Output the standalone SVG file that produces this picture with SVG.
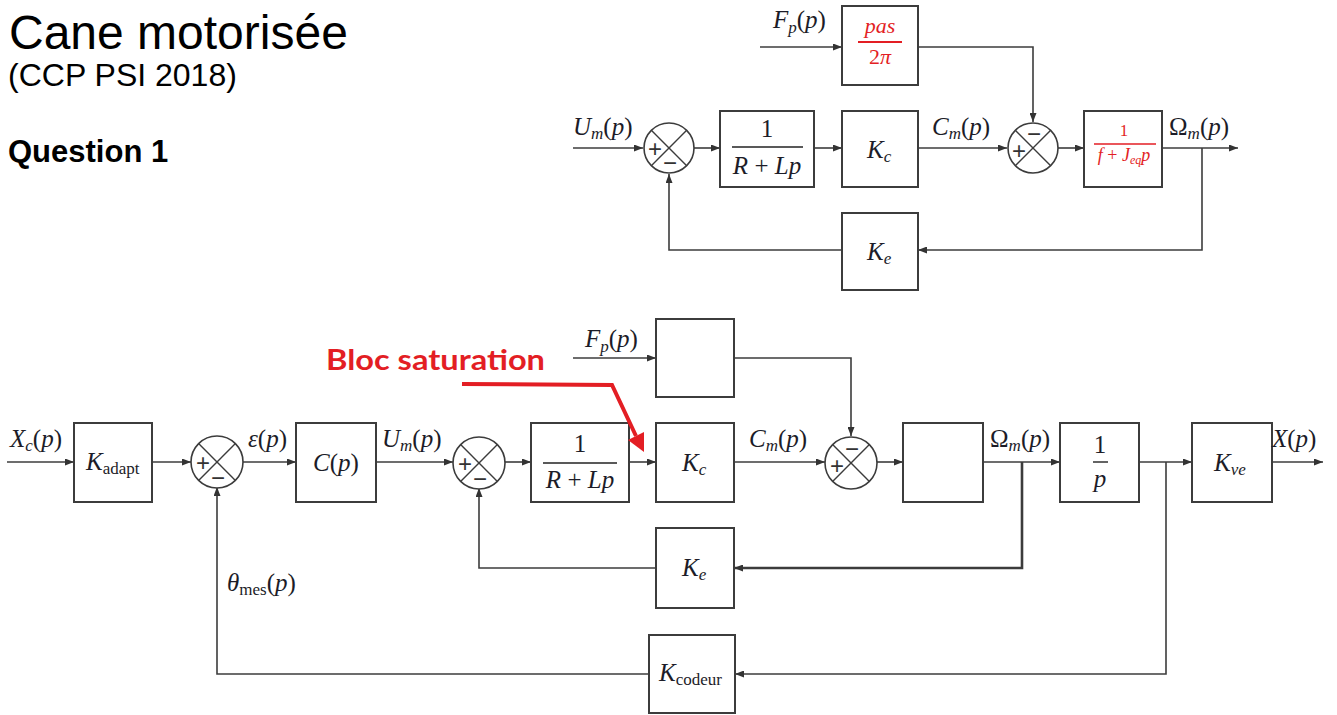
<svg xmlns="http://www.w3.org/2000/svg" width="1337" height="715" viewBox="0 0 1337 715">
<defs>
<marker id="ar" markerUnits="userSpaceOnUse" markerWidth="9" markerHeight="7" refX="9" refY="3.5" orient="auto">
<path d="M0,0 L9,3.5 L0,7 z" fill="#333"/>
</marker>
<style>
.ln{fill:none;stroke:#3c3c3c;stroke-width:1.6}
.thk{stroke-width:2.6}
.bx{fill:#fff;stroke:#3c3c3c;stroke-width:2}
.sj{fill:#fff;stroke:#3c3c3c;stroke-width:1.6}
.cx{stroke:#3c3c3c;stroke-width:1.4}
.m{font-family:"Liberation Serif",serif;font-style:italic;font-size:25px;fill:#1c1c28}
.u{font-style:normal}
.sg{font-family:"Liberation Sans",sans-serif;font-size:24px;fill:#333;text-anchor:middle}
.red{fill:#e31e24}
.hd{font-family:"Liberation Sans",Arial,sans-serif;fill:#000}
</style>
</defs>

<g id="header">
<text class="hd" x="9" y="49" style="font-size:48px">Cane motorisée</text>
<text class="hd" x="8" y="86" style="font-size:32px">(CCP PSI 2018)</text>
<text class="hd" x="8" y="162" style="font-size:31px;font-weight:bold">Question 1</text>
</g>

<!-- ===== Top diagram ===== -->
<g id="top-connectors">
<path class="ln" d="M573,148 H643" marker-end="url(#ar)"/>
<path class="ln" d="M694,148 H720" marker-end="url(#ar)"/>
<path class="ln" d="M814,148 H842" marker-end="url(#ar)"/>
<path class="ln" d="M918,148 H1007" marker-end="url(#ar)"/>
<path class="ln" d="M1058,148 H1084" marker-end="url(#ar)"/>
<path class="ln" d="M1162,148 H1238" marker-end="url(#ar)"/>
<path class="ln" d="M760,47 H842" marker-end="url(#ar)"/>
<path class="ln" d="M918,47 H1033 V122" marker-end="url(#ar)"/>
<path class="ln" d="M1202,148 V250 H918" marker-end="url(#ar)"/>
<path class="ln" d="M842,250 H669 V174" marker-end="url(#ar)"/>
</g>

<g id="t-sum1">
<circle class="sj" cx="669" cy="148" r="25"/>
<line class="cx" x1="651.3" y1="130.3" x2="686.7" y2="165.7"/>
<line class="cx" x1="686.7" y1="130.3" x2="651.3" y2="165.7"/>
<text class="sg" x="655" y="157">+</text>
<text class="sg" x="670" y="171">−</text>
</g>
<g id="t-sum2">
<circle class="sj" cx="1033" cy="148" r="25"/>
<line class="cx" x1="1015.3" y1="130.3" x2="1050.7" y2="165.7"/>
<line class="cx" x1="1050.7" y1="130.3" x2="1015.3" y2="165.7"/>
<text class="sg" x="1019" y="159">+</text>
<text class="sg" x="1034" y="142">−</text>
</g>

<g id="t-pas">
<rect class="bx" x="842" y="6" width="76" height="79"/>
<text class="m red" x="880" y="33" style="font-size:22px" text-anchor="middle">pas</text>
<line x1="858" y1="42" x2="902" y2="42" stroke="#e31e24" stroke-width="1.8"/>
<text class="m red" x="880" y="64" style="font-size:22px" text-anchor="middle"><tspan class="u">2</tspan>π</text>
</g>
<g id="t-rlp">
<rect class="bx" x="720" y="111" width="94" height="76"/>
<text class="m u" x="767" y="137" text-anchor="middle">1</text>
<line x1="732" y1="147" x2="803" y2="147" stroke="#222" stroke-width="1.4"/>
<text class="m" x="767" y="174" text-anchor="middle">R <tspan class="u">+</tspan> Lp</text>
</g>
<g id="t-kc">
<rect class="bx" x="842" y="111" width="76" height="76"/>
<text class="m" x="867" y="158">K<tspan font-size="17" dy="4">c</tspan></text>
</g>
<g id="t-mech">
<rect class="bx" x="1084" y="111" width="78" height="76"/>
<text class="m u red" x="1124" y="136" style="font-size:17px" text-anchor="middle">1</text>
<line x1="1094" y1="144" x2="1156" y2="144" stroke="#e31e24" stroke-width="1.3"/>
<text class="m red" x="1124" y="161" style="font-size:18px" text-anchor="middle">f <tspan class="u">+</tspan> J<tspan font-size="12" dy="3">eq</tspan><tspan dy="-3">p</tspan></text>
</g>
<g id="t-ke">
<rect class="bx" x="842" y="213" width="76" height="77"/>
<text class="m" x="867" y="260">K<tspan font-size="17" dy="4">e</tspan></text>
</g>

<g id="top-labels">
<text class="m" x="773" y="28">F<tspan font-size="17" dy="5">p</tspan><tspan class="u" dy="-5">(</tspan>p<tspan class="u">)</tspan></text>
<text class="m" x="573" y="135">U<tspan font-size="17" dy="4">m</tspan><tspan class="u" dy="-4">(</tspan>p<tspan class="u">)</tspan></text>
<text class="m" x="932" y="135">C<tspan font-size="17" dy="4">m</tspan><tspan class="u" dy="-4">(</tspan>p<tspan class="u">)</tspan></text>
<text class="m" x="1169" y="135"><tspan class="u">Ω</tspan><tspan font-size="17" dy="4">m</tspan><tspan class="u" dy="-4">(</tspan>p<tspan class="u">)</tspan></text>
</g>

<!-- ===== Bottom diagram ===== -->
<g id="bottom-connectors">
<path class="ln" d="M7,462 H74" marker-end="url(#ar)"/>
<path class="ln" d="M152,462 H191" marker-end="url(#ar)"/>
<path class="ln" d="M243,462 H296" marker-end="url(#ar)"/>
<path class="ln" d="M376,462 H453" marker-end="url(#ar)"/>
<path class="ln" d="M505,462 H531" marker-end="url(#ar)"/>
<path class="ln" d="M629,462 H656" marker-end="url(#ar)"/>
<path class="ln" d="M734,462 H825" marker-end="url(#ar)"/>
<path class="ln" d="M877,462 H903" marker-end="url(#ar)"/>
<path class="ln" d="M983,462 H1060" marker-end="url(#ar)"/>
<path class="ln" d="M1139,462 H1192" marker-end="url(#ar)"/>
<path class="ln" d="M1272,462 H1323" marker-end="url(#ar)"/>
<path class="ln" d="M573,358 H656" marker-end="url(#ar)"/>
<path class="ln" d="M734,358 H851 V436" marker-end="url(#ar)"/>
<path class="ln thk" d="M1022,462 V568 H734" marker-end="url(#ar)"/>
<path class="ln" d="M656,568 H479 V488" marker-end="url(#ar)"/>
<path class="ln" d="M1166,462 V674 H735" marker-end="url(#ar)"/>
<path class="ln" d="M649,674 H217 V487" marker-end="url(#ar)"/>
</g>

<g id="b-sum1">
<circle class="sj" cx="217" cy="462" r="26"/>
<line class="cx" x1="198.6" y1="443.6" x2="235.4" y2="480.4"/>
<line class="cx" x1="235.4" y1="443.6" x2="198.6" y2="480.4"/>
<text class="sg" x="203" y="471">+</text>
<text class="sg" x="218" y="486">−</text>
</g>
<g id="b-sum2">
<circle class="sj" cx="479" cy="463" r="26"/>
<line class="cx" x1="460.6" y1="444.6" x2="497.4" y2="481.4"/>
<line class="cx" x1="497.4" y1="444.6" x2="460.6" y2="481.4"/>
<text class="sg" x="465" y="472">+</text>
<text class="sg" x="480" y="487">−</text>
</g>
<g id="b-sum3">
<circle class="sj" cx="851" cy="463" r="26"/>
<line class="cx" x1="832.6" y1="444.6" x2="869.4" y2="481.4"/>
<line class="cx" x1="869.4" y1="444.6" x2="832.6" y2="481.4"/>
<text class="sg" x="837" y="474">+</text>
<text class="sg" x="852" y="457">−</text>
</g>

<g id="b-kadapt">
<rect class="bx" x="74" y="423" width="78" height="79"/>
<text class="m" x="86" y="470">K<tspan class="u" font-size="17" dy="4">adapt</tspan></text>
</g>
<g id="b-cp">
<rect class="bx" x="296" y="423" width="80" height="79"/>
<text class="m" x="336" y="471" text-anchor="middle">C<tspan class="u">(</tspan>p<tspan class="u">)</tspan></text>
</g>
<g id="b-rlp">
<rect class="bx" x="531" y="423" width="98" height="79"/>
<text class="m u" x="580" y="452" text-anchor="middle">1</text>
<line x1="543" y1="463" x2="617" y2="463" stroke="#222" stroke-width="1.4"/>
<text class="m" x="580" y="488" text-anchor="middle">R <tspan class="u">+</tspan> Lp</text>
</g>
<g id="b-kc">
<rect class="bx" x="656" y="423" width="78" height="79"/>
<text class="m" x="682" y="471">K<tspan font-size="17" dy="4">c</tspan></text>
</g>
<g id="b-fp">
<rect class="bx" x="656" y="319" width="78" height="78"/>
</g>
<g id="b-mech">
<rect class="bx" x="903" y="423" width="80" height="79"/>
</g>
<g id="b-integ">
<rect class="bx" x="1060" y="423" width="79" height="79"/>
<text class="m u" x="1100" y="453" text-anchor="middle">1</text>
<line x1="1093" y1="462" x2="1108" y2="462" stroke="#222" stroke-width="1.4"/>
<text class="m" x="1100" y="487" text-anchor="middle">p</text>
</g>
<g id="b-kve">
<rect class="bx" x="1192" y="423" width="80" height="79"/>
<text class="m" x="1214" y="471">K<tspan font-size="17" dy="4">ve</tspan></text>
</g>
<g id="b-ke">
<rect class="bx" x="656" y="528" width="78" height="80"/>
<text class="m" x="682" y="576">K<tspan font-size="17" dy="4">e</tspan></text>
</g>
<g id="b-kcodeur">
<rect class="bx" x="649" y="635" width="86" height="78"/>
<text class="m" x="659" y="681">K<tspan class="u" font-size="17" dy="4">codeur</tspan></text>
</g>

<g id="bottom-labels">
<text class="m" x="10" y="447">X<tspan font-size="17" dy="4">c</tspan><tspan class="u" dy="-4">(</tspan>p<tspan class="u">)</tspan></text>
<text class="m" x="248" y="447">ε<tspan class="u">(</tspan>p<tspan class="u">)</tspan></text>
<text class="m" x="382" y="447">U<tspan font-size="17" dy="4">m</tspan><tspan class="u" dy="-4">(</tspan>p<tspan class="u">)</tspan></text>
<text class="m" x="227" y="591">θ<tspan class="u" font-size="17" dy="4">mes</tspan><tspan class="u" dy="-4">(</tspan>p<tspan class="u">)</tspan></text>
<text class="m" x="585" y="347">F<tspan font-size="17" dy="5">p</tspan><tspan class="u" dy="-5">(</tspan>p<tspan class="u">)</tspan></text>
<text class="m" x="749" y="447">C<tspan font-size="17" dy="4">m</tspan><tspan class="u" dy="-4">(</tspan>p<tspan class="u">)</tspan></text>
<text class="m" x="990" y="447"><tspan class="u">Ω</tspan><tspan font-size="17" dy="4">m</tspan><tspan class="u" dy="-4">(</tspan>p<tspan class="u">)</tspan></text>
<text class="m" x="1272" y="447">X<tspan class="u">(</tspan>p<tspan class="u">)</tspan></text>
</g>

<g id="bloc-saturation">
<text x="326" y="370" font-family="Lato,'Open Sans','Liberation Sans',sans-serif" font-weight="bold" font-size="28" fill="#e31e24" textLength="219" lengthAdjust="spacingAndGlyphs">Bloc saturation</text>
<path d="M462,384 L612,385 L636,436" fill="none" stroke="#e31e24" stroke-width="4" stroke-linejoin="miter"/>
<polygon points="644,452 644,432 628,440" fill="#e31e24"/>
</g>
</svg>
